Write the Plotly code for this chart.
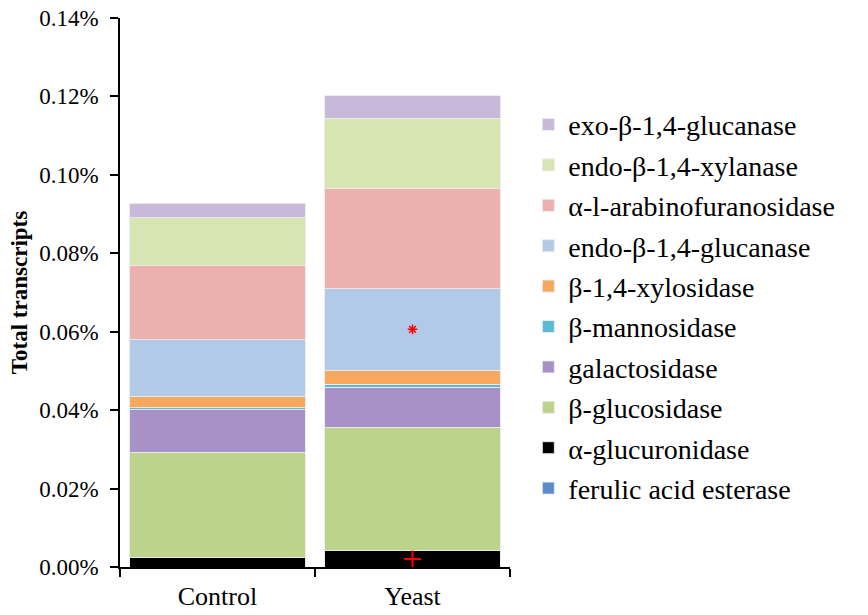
import plotly.graph_objects as go

categories = ["Control", "Yeast"]

# values in percent of total transcripts, bottom to top of stack
enzymes = [
    "ferulic acid esterase",
    "α-glucuronidase",
    "β-glucosidase",
    "galactosidase",
    "β-mannosidase",
    "β-1,4-xylosidase",
    "endo-β-1,4-glucanase",
    "α-l-arabinofuranosidase",
    "endo-β-1,4-xylanase",
    "exo-β-1,4-glucanase",
]
ferulic_acid_esterase = [0.0000, 0.0000]
alpha_glucuronidase = [0.0023, 0.0041]
beta_glucosidase = [0.0269, 0.0316]
galactosidase = [0.0109, 0.0102]
beta_mannosidase = [0.0005, 0.0007]
beta_xylosidase = [0.0028, 0.0036]
endo_glucanase = [0.0145, 0.0208]
arabinofuranosidase = [0.0191, 0.0255]
endo_xylanase = [0.0120, 0.0179]
exo_glucanase = [0.0038, 0.0058]

series = [
    ferulic_acid_esterase, alpha_glucuronidase, beta_glucosidase, galactosidase,
    beta_mannosidase, beta_xylosidase, endo_glucanase, arabinofuranosidase,
    endo_xylanase, exo_glucanase,
]
colors = [
    "#5B8BC8", "#000000", "#BCD38B", "#A791C6", "#5BBAD5",
    "#F5A85E", "#B2C9E7", "#ECB0AE", "#D6E5B2", "#C8B9DB",
]

fig = go.Figure()
n = len(enzymes)
for i, (name, vals, col) in enumerate(zip(enzymes, series, colors)):
    fig.add_trace(go.Bar(
        x=categories, y=vals, name=name, legendgroup=name, legendrank=100 + n - i,
        marker=dict(color=col, line=dict(color="rgba(235,235,235,0.9)", width=1)),
    ))

# significance markers: "+" on α-glucuronidase, "*" on endo-β-1,4-glucanase (Yeast)
cum = 0.0
mids = {}
for name, vals in zip(enzymes, series):
    mids[name] = cum + vals[1] / 2
    cum += vals[1]

fig.add_trace(go.Scatter(
    x=["Yeast"], y=[mids["α-glucuronidase"]], mode="markers", showlegend=False,
    marker=dict(symbol="cross-thin-open", size=12, color="#FF0000",
                line=dict(color="#FF0000", width=2)),
))
fig.add_trace(go.Scatter(
    x=["Yeast"], y=[mids["endo-β-1,4-glucanase"]], mode="markers", showlegend=False,
    marker=dict(symbol="asterisk-open", size=8, color="#FF0000",
                line=dict(color="#FF0000", width=1.5)),
))

serif = "Liberation Serif, Times New Roman, serif"
fig.update_layout(
    width=868, height=615,
    margin=dict(l=120, r=358, t=18, b=48),
    paper_bgcolor="white", plot_bgcolor="white",
    barmode="stack", bargap=0.1,
    font=dict(family=serif, color="black"),
    showlegend=True,
    legend=dict(
        x=1.047, y=0.851, xanchor="left", yanchor="top",
        traceorder="grouped", tracegroupgap=1,
        font=dict(family=serif, size=28, color="black"),
        itemwidth=30, bgcolor="rgba(0,0,0,0)",
    ),
    yaxis=dict(
        range=[0, 0.14], dtick=0.02, tickformat=".2f", ticksuffix="%",
        showgrid=False, zeroline=False, automargin=False,
        showline=True, linecolor="black", linewidth=1.5,
        ticks="outside", ticklen=8, tickwidth=1.5, tickcolor="black",
        tickfont=dict(family=serif, size=23), ticklabelstandoff=7,
        title=dict(text="<b>Total transcripts</b>", font=dict(family=serif, size=23), standoff=5),
    ),
    xaxis=dict(
        showgrid=False, showline=True, linecolor="black", linewidth=1.5, automargin=False,
        ticks="outside", tickson="boundaries", ticklen=8, tickwidth=1.5, tickcolor="black",
        tickfont=dict(family=serif, size=26), ticklabelstandoff=5,
    ),
)

fig.write_html("out.html")
